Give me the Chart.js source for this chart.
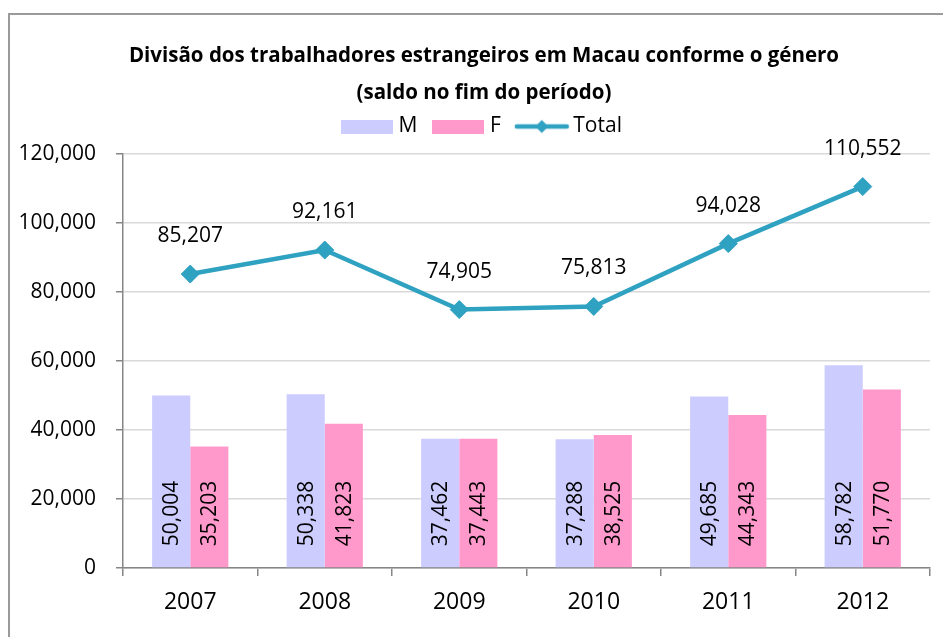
<!DOCTYPE html>
<html>
<head>
<meta charset="utf-8">
<script src="https://cdn.jsdelivr.net/npm/chart.js@4/dist/chart.umd.min.js"></script>
<style>
  html, body { margin: 0; padding: 0; background: #fff; }
  #wrap { position: relative; width: 943px; height: 637px; overflow: hidden; }
  #frame { position: absolute; left: 8px; top: 13px; width: 1000px; height: 700px;
           border-left: 2px solid #9a9a9a; border-top: 2px solid #9a9a9a; }
  #c { position: absolute; left: 0; top: 0; }
</style>
</head>
<body>
<div id="wrap">
  <div id="frame"></div>
  <canvas id="c" width="943" height="637"></canvas>
</div>
<script>
const years = ['2007', '2008', '2009', '2010', '2011', '2012'];
const maleValues = [50004, 50338, 37462, 37288, 49685, 58782];
const femaleValues = [35203, 41823, 37443, 38525, 44343, 51770];
const totalValues = [85207, 92161, 74905, 75813, 94028, 110552];
const yTicks = [0, 20000, 40000, 60000, 80000, 100000, 120000];
const titleLines = ['Divisão dos trabalhadores estrangeiros em Macau conforme o género', '(saldo no fim do período)'];
const seriesNames = ['M', 'F', 'Total'];

const COL_M = '#CCCCFF';
const COL_F = '#FF99CC';
const COL_T = '#2FA1C1';
const FONT = '"Open Sans", "Noto Sans", sans-serif';
const fmt = v => v.toLocaleString('en-US');

function boxImg(color, w, h) {
  const c = document.createElement('canvas');
  c.width = w; c.height = h;
  const g = c.getContext('2d');
  g.fillStyle = color; g.fillRect(0, 0, w, h);
  return c;
}
function lineImg(color, w, h) {
  const c = document.createElement('canvas');
  c.width = w; c.height = h;
  const g = c.getContext('2d');
  g.strokeStyle = color; g.lineWidth = 4.5; g.lineCap = 'round';
  g.beginPath(); g.moveTo(3, h / 2); g.lineTo(w - 3, h / 2); g.stroke();
  g.fillStyle = color;
  const r = 6.5;
  g.beginPath(); g.moveTo(w / 2, h / 2 - r); g.lineTo(w / 2 + r, h / 2);
  g.lineTo(w / 2, h / 2 + r); g.lineTo(w / 2 - r, h / 2); g.closePath(); g.fill();
  return c;
}
const legendImgs = [boxImg(COL_M, 52, 14), boxImg(COL_F, 52, 14), lineImg(COL_T, 56, 16)];

const valueLabels = {
  id: 'valueLabels',
  afterDatasetsDraw(chart) {
    const ctx = chart.ctx;
    ctx.save();
    ctx.font = '21px ' + FONT;
    ctx.fillStyle = '#000';
    chart.data.datasets.forEach((ds, di) => {
      const meta = chart.getDatasetMeta(di);
      meta.data.forEach((el, i) => {
        const txt = fmt(ds.data[i]);
        if (meta.type === 'line') {
          ctx.textAlign = 'center'; ctx.textBaseline = 'middle';
          ctx.fillText(txt, el.x, el.y - 38);
        } else {
          ctx.save();
          ctx.translate(el.x, el.base - 21);
          ctx.rotate(-Math.PI / 2);
          ctx.textAlign = 'left'; ctx.textBaseline = 'middle';
          ctx.fillText(txt, 0, 1);
          ctx.restore();
        }
      });
    });
    ctx.restore();
  }
};

new Chart(document.getElementById('c'), {
  data: {
    labels: years,
    datasets: [
      { type: 'bar', label: seriesNames[0], data: maleValues, backgroundColor: COL_M,
        categoryPercentage: 0.567, barPercentage: 1.0 },
      { type: 'bar', label: seriesNames[1], data: femaleValues, backgroundColor: COL_F,
        categoryPercentage: 0.567, barPercentage: 1.0 },
      { type: 'line', label: seriesNames[2], data: totalValues, borderColor: COL_T, backgroundColor: COL_T,
        borderWidth: 4.5, pointStyle: 'rectRot', pointRadius: 9, pointHoverRadius: 9, pointBorderWidth: 1,
        pointBackgroundColor: COL_T, pointBorderColor: COL_T, tension: 0 }
    ]
  },
  options: {
    responsive: false,
    animation: false,
    layout: { padding: { left: 0, right: -25, top: 0, bottom: 0 } },
    plugins: {
      tooltip: { enabled: false },
      title: {
        display: true,
        weight: 2000,
        text: titleLines,
        color: '#000',
        font: { family: FONT, size: 20.5, weight: 'bold', lineHeight: '37px' },
        padding: { top: 38, bottom: -16 }
      },
      legend: {
        display: true,
        position: 'top',
        weight: 1000,
        labels: {
          usePointStyle: true,
          pointStyleWidth: 42,
          padding: 20,
          color: '#000',
          font: { family: FONT, size: 21 },
          generateLabels: (chart) => chart.data.datasets.map((ds, i) => ({
            text: ds.label,
            pointStyle: legendImgs[i],
            fillStyle: ds.backgroundColor,
            strokeStyle: ds.backgroundColor,
            lineWidth: 0,
            hidden: false,
            datasetIndex: i
          }))
        }
      },
      subtitle: {
        display: true,
        weight: 500,
        position: 'top',
        text: ' ',
        font: { size: 1, lineHeight: '1px' },
        padding: { top: 6, bottom: 0 }
      }
    },
    scales: {
      x: {
        afterFit: (s) => { s.height = 69; },
        grid: { display: true, drawOnChartArea: false, offset: true, tickLength: 8, color: '#868686', lineWidth: 1.5 },
        border: { display: true, color: '#868686', width: 1.5 },
        ticks: { color: '#000', font: { family: FONT, size: 23 }, padding: 13 }
      },
      y: {
        min: 0, max: 120000,
        afterFit: (s) => { s.width = 123; },
        afterBuildTicks: (s) => { s.ticks = yTicks.map(v => ({ value: v })); },
        grid: { color: '#D9D9D9', lineWidth: 1.5, tickLength: 7, tickColor: '#868686' },
        border: { display: true, color: '#868686', width: 1.5 },
        ticks: { color: '#000', font: { family: FONT, size: 21 }, padding: 20,
                 callback: (v) => fmt(v) }
      },
      spacerRight: {
        type: 'linear',
        position: 'right',
        display: true,
        afterFit: (s) => { s.width = 38; },
        grid: { display: false, drawTicks: false },
        border: { display: false },
        ticks: { display: false }
      }
    }
  },
  plugins: [valueLabels]
});
</script>
</body>
</html>
